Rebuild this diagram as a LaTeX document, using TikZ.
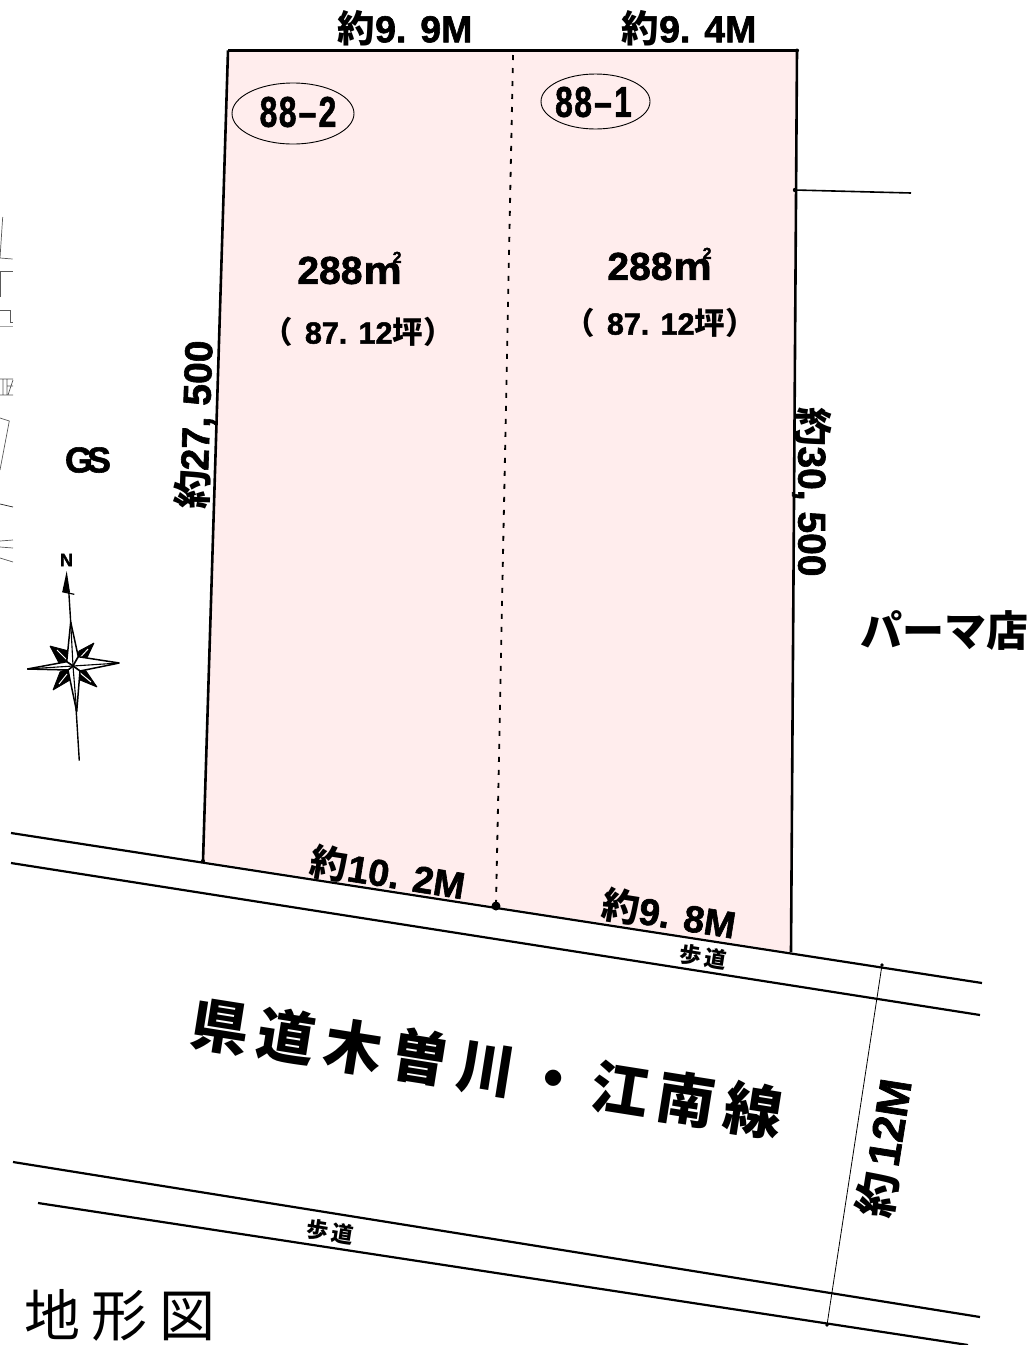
\documentclass[tikz,border=0pt]{standalone}
\usepackage{graphicx}
\usepackage{fontspec}
\setmainfont{Liberation Sans}[BoldFeatures={FakeBold=1.6}]
\newfontfamily\cjk{Noto Sans CJK JP}
\definecolor{lotpink}{HTML}{FFEDED}
\newcommand{\fs}[1]{\fontsize{#1}{#1}\selectfont}
\newcommand{\yaku}{{\cjk 約}}
\newcommand{\tsubo}{{\cjk 坪}}
\newcommand{\sqm}{288\kern1pt\scalebox{1.1}[1]{m}\kern-9pt\raisebox{21pt}{\fs{16}2}}
\tikzset{
  lbl/.style={inner sep=0pt,font=\bfseries\fs{37.5}},
  lotno/.style={inner sep=0pt,font=\bfseries\fs{43}},
  area/.style={inner sep=0pt,font=\bfseries\fs{39}},
  tsubolbl/.style={inner sep=0pt,font=\bfseries\fs{30.5}},
  walk/.style={inner sep=0pt,font=\cjk\bfseries\fs{22}},
  boundary/.style={draw=black,line width=2.6pt},
  road/.style={draw=black,line width=2.2pt},
  thinline/.style={draw=black,line width=0.8pt},
  scrap/.style={draw=black!65,line width=0.7pt},
  lotmark/.style={draw=black,line width=0.9pt,ellipse,minimum width=0pt},
  armfill/.style={draw=black,fill=white,line width=1.5pt,line join=bevel},
  diagfill/.style={draw=black,fill=black,line width=0.8pt,line join=bevel},
}
\usetikzlibrary{shapes.geometric}
\begin{document}
\begin{tikzpicture}[x=1pt,y=-1pt]
\useasboundingbox (0,0) rectangle (1027,1345);
% lot
\coordinate (tl) at (228,50.5);
\coordinate (tr) at (797,50.5);
\coordinate (br) at (791,952);
\coordinate (bl) at (203,861);
\coordinate (dt) at (513,55);
\coordinate (db) at (496,906);
\fill[lotpink] (tl)--(tr)--(br)--(bl)--cycle;
\draw[boundary,line join=miter] (tl)--(tr)--(br);
\draw[boundary] (tl)--(bl);
\draw[draw=black,line width=1.8pt,dash pattern=on 5pt off 8pt] (dt)--(db);
\fill (db) circle (4.5pt);
\fill (tr) circle (2pt);
\fill (bl) circle (2pt);
% roads
\coordinate (r1a) at (11,833); \coordinate (r1b) at (982,983);
\coordinate (r2a) at (11,863); \coordinate (r2b) at (980,1015);
\coordinate (r3a) at (13,1162); \coordinate (r3b) at (980,1317);
\coordinate (r4a) at (38,1203); \coordinate (r4b) at (968,1345);
\draw[road] (r1a)--(r1b);
\draw[road] (r2a)--(r2b);
\draw[road] (r3a)--(r3b);
\draw[road] (r4a)--(r4b);
% road width
\coordinate (w1) at (882,965); \coordinate (w2) at (827,1325);
\draw[thinline] (w1)--(w2);
\fill (w1) circle (1.8pt);
\fill (w2) circle (1.8pt);
% neighbour line
\coordinate (n1) at (795,190); \coordinate (n2) at (911,193);
\draw[draw=black,line width=1.6pt] (n1)--(n2);
\fill (n1) circle (2.2pt);
% remnants at left
\draw[scrap] (2.7,217)--(0,258)--(12.7,259);
\draw[scrap] (12.7,271)--(0,271)--(0,297);
\draw[scrap] (0,310)--(10,310)--(10,322)--(13,322);
\draw[scrap,draw=black!35] (0,326)--(13,326);
\draw[scrap] (0,379)--(13,379) (0,395)--(13,395) (3,379)--(3,395) (7,379)--(7,395) (7,386)--(13,386) (8,395)--(13,380);
\draw[scrap] (0,418)--(9.3,421)--(0,470);
\draw[scrap,draw=black!85] (0,504)--(13,507);
\draw[scrap] (0,541)--(13,540) (0,547)--(13,548) (0,558)--(13,562);
% compass
\coordinate (cc) at (73,666);
\coordinate (cn) at (66.7,571); \coordinate (cs) at (79.3,760.7);
\coordinate (c1) at (66.7,661.7); \coordinate (c2) at (78.3,656.7);
\coordinate (c3) at (80,671); \coordinate (c4) at (68,670);
\draw[draw=black,line width=1.4pt] (68.7,590)--(cs);
\fill (cn)--(62.3,591.7)--(70,592.5)--cycle;
\draw[line width=1.2pt] (62.3,591.7)--(74.3,594.3);
\draw[diagfill] (94,643)--(79,651)--(cc)--(85,662)--cycle;
\draw[diagfill] (50,646)--(69,651)--(cc)--(60,665)--cycle;
\draw[diagfill] (97,687)--(86,671)--(cc)--(80,680)--cycle;
\draw[diagfill] (53,690)--(60,672)--(cc)--(70,680)--cycle;
\draw[white,line width=1pt] (88,649)--(77,661) (57,650)--(68,661) (91,682)--(79,672) (59,684)--(67,674);
\draw[armfill] (70.7,622)--(c2)--(cc)--(c1)--cycle;
\draw[armfill] (119.3,663)--(c3)--(cc)--(c2)--cycle;
\draw[armfill] (76.7,711.7)--(c4)--(cc)--(c3)--cycle;
\draw[armfill] (27.3,669)--(c1)--(cc)--(c4)--cycle;
\draw[line width=1.1pt] (70.7,622)--(cc)--(119.3,663) (cc)--(76.7,711.7) (cc)--(27.3,669);
\node[inner sep=0pt,font=\bfseries\fs{18}] (north) at (66.5,560) {N};
% lot marks
\node[lotmark,minimum width=122pt,minimum height=61pt] (m2) at (293,113.5) {};
\node[lotmark,minimum width=109pt,minimum height=55pt] (m1) at (595.5,101.5) {};
\node[lotno] (m2t) at (298,112) {\scalebox{.74}[1]{8\kern2pt 8\kern3pt –\kern3pt 2}};
\node[lotno] (m1t) at (593.5,102) {\scalebox{.74}[1]{8\kern2pt 8\kern3pt –\kern3pt 1}};
% areas
\node[area] (a2) at (349.5,268) {\sqm};
\node[area] (a1) at (659.5,264) {\sqm};
\node[tsubolbl] (t2) at (358,332) {{\cjk （}\kern12pt 87. 12\tsubo{\cjk ）}};
\node[tsubolbl] (t1) at (660,323) {{\cjk （}\kern12pt 87. 12\tsubo{\cjk ）}};
% dimensions
\node[lbl] (d1) at (405,28) {\yaku 9. 9M};
\node[lbl] (d2) at (689,28) {\yaku 9. 4M};
\node[lbl,rotate=-90,font=\bfseries\fs{39}] (d3) at (812,492) {\yaku 30, 500};
\node[lbl,rotate=88,font=\bfseries\fs{39}] (d4) at (196,425) {\yaku 27, 500};
\node[lbl,rotate=-9] (d5) at (388,873) {\yaku 10. 2M};
\node[lbl,rotate=-9] (d6) at (669,914) {\yaku 9. 8M};
\node[lbl,rotate=81,font=\bfseries\fs{45}] (d7) at (884,1148) {\yaku\kern7pt 12M};
% labels
\node[inner sep=0pt,font=\bfseries\fs{36}] (gs) at (88,460) {G\kern-6pt S};
\node[inner sep=0pt,font=\cjk\bfseries\fs{42}] (shop) at (944,630) {パーマ店};
\node[walk,rotate=-9] (w3) at (703,957) {歩\kern4pt 道};
\node[walk,rotate=-9] (w4) at (330,1232) {歩\kern4pt 道};
\node[inner sep=0pt,rotate=-9,font=\cjk\bfseries\fs{58}] (rd) at (487,1068) {県\kern9.5pt 道\kern9.5pt 木\kern9.5pt 曽\kern9.5pt 川\kern9.5pt ・\kern9.5pt 江\kern9.5pt 南\kern9.5pt 線};
\node[inner sep=0pt,font=\cjk\fs{56}] (ttl) at (120,1315) {地\kern12pt 形\kern12pt 図};
\end{tikzpicture}
\end{document}
